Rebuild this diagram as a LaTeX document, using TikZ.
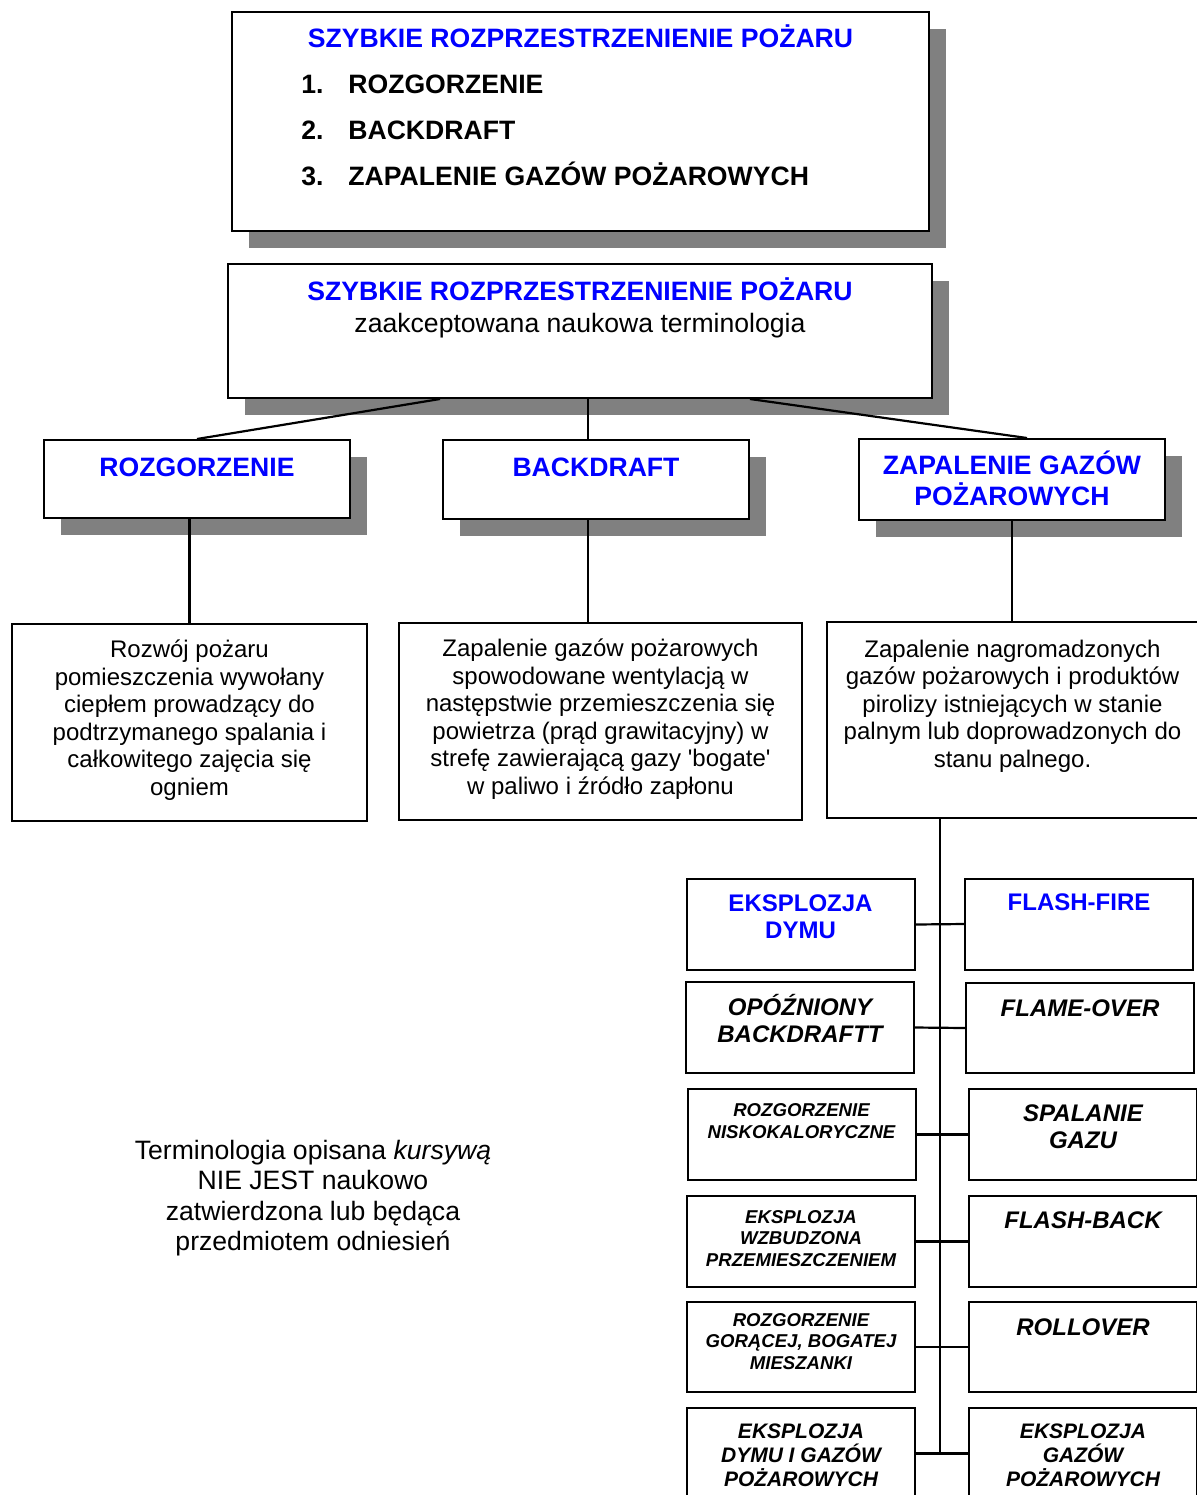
\documentclass[tikz,border=0pt]{standalone}
\usepackage{fontspec}
\setmainfont{Liberation Sans}[Ligatures=TeXOff]
\usepackage{xcolor}
\usepackage{tikz}
\usetikzlibrary{positioning,calc,shadows}
\definecolor{titleblue}{RGB}{0,0,255}
\definecolor{shadowgray}{RGB}{128,128,128}

\begin{document}
\begin{tikzpicture}[
    x=0.5pt, y=-0.5pt,
    box/.style={draw, line width=1pt, fill=white, inner sep=0pt},
    shadowed/.style={box, drop shadow={shadow xshift=8.5pt, shadow yshift=-8.5pt, fill=shadowgray, opacity=1}},
    head/.style={anchor=base, align=center, inner sep=0pt, text=titleblue, font=\fontsize{13.3pt}{15.5pt}\selectfont\bfseries},
    body/.style={anchor=base, align=center, inner sep=0pt, font=\fontsize{12pt}{13.8pt}\selectfont},
    term/.style={anchor=base, align=center, inner sep=0pt, font=\fontsize{12pt}{13.5pt}\selectfont\bfseries\itshape},
    smallterm/.style={term, font=\fontsize{9.3pt}{10.75pt}\selectfont\bfseries\itshape},
    midterm/.style={term, font=\fontsize{10.5pt}{12pt}\selectfont\bfseries\itshape},
    blueterm/.style={term, text=titleblue, font=\fontsize{12pt}{13.5pt}\selectfont\bfseries},
    link/.style={line width=1.1pt}
]
    \useasboundingbox (0,0) rectangle (1196,1495);

    % top summary
    \node[shadowed, minimum width=348.5pt, minimum height=109.5pt] (intro) at (580.5,121.5) {};
    \node[head] (intro-t) at ([yshift=-18pt]intro.north) {SZYBKIE ROZPRZESTRZENIENIE POŻARU};
    \node[anchor=base west, align=left, inner sep=0pt, font=\fontsize{13.3pt}{23pt}\selectfont\bfseries] (intro-l) at ([xshift=35pt,yshift=-87.25pt]intro.north west)
        {\makebox[23.5pt][l]{1.}ROZGORZENIE\\\makebox[23.5pt][l]{2.}BACKDRAFT\\\makebox[23.5pt][l]{3.}ZAPALENIE GAZÓW POŻAROWYCH};

    % accepted terms
    \node[shadowed, minimum width=352pt, minimum height=67pt] (sfs) at (580,331) {};
    \node[head] (sfs-t) at ([yshift=-34.5pt]sfs.north) {SZYBKIE ROZPRZESTRZENIENIE POŻARU\\[0.5pt]\textcolor{black}{\mdseries zaakceptowana naukowa terminologia}};

    \node[shadowed, minimum width=153pt, minimum height=39pt] (rz) at (197,479) {};
    \node[head] (rz-t) at ([yshift=-18.75pt]rz.north) {ROZGORZENIE};
    \node[shadowed, minimum width=153pt, minimum height=39.5pt] (bd) at (596,479.5) {};
    \node[head] (bd-t) at ([yshift=-18.75pt]bd.north) {BACKDRAFT};
    \node[shadowed, minimum width=153pt, minimum height=40.5pt] (zg) at (1012,479.5) {};
    \node[head] (zg-t) at ([yshift=-33.75pt]zg.north) {ZAPALENIE GAZÓW\\POŻAROWYCH};

    % definitions
    \node[box, minimum width=177.5pt, minimum height=98.5pt] (d1) at (189.5,722.5) {};
    \node[body] (d1-t) at ([yshift=-86.25pt]d1.north) {Rozwój pożaru\\pomieszczenia wywołany\\ciepłem prowadzący do\\podtrzymanego spalania i\\całkowitego zajęcia się\\ogniem};
    \node[box, minimum width=201.5pt, minimum height=98.5pt] (d2) at (600.5,721.5) {};
    \node[body] (d2-t) at ([yshift=-86.25pt]d2.north) {Zapalenie gazów pożarowych\\spowodowane wentylacją w\\następstwie przemieszczenia się\\powietrza (prąd grawitacyjny) w\\strefę zawierającą gazy 'bogate'\\w paliwo i źródło zapłonu};
    \node[box, minimum width=185.5pt, minimum height=98pt] (d3) at (1012.5,720) {};
    \node[body] (d3-t) at ([yshift=-73.2pt]d3.north) {Zapalenie nagromadzonych\\gazów pożarowych i produktów\\pirolizy istniejących w stanie\\palnym lub doprowadzonych do\\stanu palnego.};

    \draw[link] ([xshift=-70pt]sfs.south) -- (rz.north);
    \coordinate (bd-in) at ([xshift=-4pt]bd.north);
    \draw[link] (bd-in |- sfs.south) -- (bd-in);
    \draw[link] ([xshift=85pt]sfs.south) -- ([xshift=7.5pt]zg.north);

    \draw[link] (d1.north |- rz.south) -- (d1.north);
    \coordinate (bd-out) at ([xshift=-4pt]bd.south);
    \draw[link] (bd-out) -- (bd-out |- d2.north);
    \draw[link] (zg.south) -- (zg.south |- d3.north);

    % other terms
    \node[box, minimum width=114pt, minimum height=45.5pt] (ed) at (800.5,924.5) {};
    \node[blueterm] (ed-t) at ([yshift=-30pt]ed.north) {EKSPLOZJA\\DYMU};
    \node[box, minimum width=114pt, minimum height=45.5pt] (ff) at (1079,924) {};
    \node[blueterm] (ff-t) at ([yshift=-16.5pt]ff.north) {FLASH-FIRE};

    \node[box, minimum width=114pt, minimum height=45.5pt] (ob) at (800,1027.5) {};
    \node[term] (ob-t) at ([yshift=-30.5pt]ob.north) {OPÓŹNIONY\\BACKDRAFTT};
    \node[box, minimum width=114pt, minimum height=45pt] (fo) at (1080,1028) {};
    \node[term] (fo-t) at ([yshift=-17pt]fo.north) {FLAME-OVER};

    \node[box, minimum width=114pt, minimum height=45.5pt] (rn) at (801.5,1134.5) {};
    \node[smallterm] (rn-t) at ([yshift=-25pt]rn.north) {ROZGORZENIE\\NISKOKALORYCZNE};
    \node[box, minimum width=114pt, minimum height=45.5pt] (sg) at (1083,1134.5) {};
    \node[term] (sg-t) at ([yshift=-30pt]sg.north) {SPALANIE\\GAZU};

    \node[box, minimum width=114pt, minimum height=45.5pt] (ew) at (801,1241.5) {};
    \node[smallterm] (ew-t) at ([yshift=-35.5pt]ew.north) {EKSPLOZJA\\WZBUDZONA\\PRZEMIESZCZENIEM};
    \node[box, minimum width=114pt, minimum height=45.5pt] (fb) at (1083,1241.5) {};
    \node[term] (fb-t) at ([yshift=-16.5pt]fb.north) {FLASH-BACK};

    \node[box, minimum width=114pt, minimum height=45pt] (rg) at (801,1347) {};
    \node[smallterm] (rg-t) at ([yshift=-34pt]rg.north) {ROZGORZENIE\\GORĄCEJ, BOGATEJ\\MIESZANKI};
    \node[box, minimum width=114pt, minimum height=45pt] (ro) at (1083,1347) {};
    \node[term] (ro-t) at ([yshift=-17pt]ro.north) {ROLLOVER};

    \node[box, minimum width=114pt, minimum height=45.5pt] (edg) at (801,1453.5) {};
    \node[midterm] (edg-t) at ([yshift=-39.5pt]edg.north) {EKSPLOZJA\\DYMU I GAZÓW\\POŻAROWYCH};
    \node[box, minimum width=114pt, minimum height=45.5pt] (eg) at (1083,1453.5) {};
    \node[midterm] (eg-t) at ([yshift=-39.5pt]eg.north) {EKSPLOZJA\\GAZÓW\\POŻAROWYCH};

    \coordinate (spine) at (940,1455);
    \draw[link] (d3.south -| spine) -- (spine);
    \draw[link] (ed.east) -- (ff.west);
    \draw[link] (ob.east) -- (fo.west);
    \draw[link] (rn.east) -- (sg.west);
    \draw[link] (ew.east) -- (fb.west);
    \draw[link] (rg.east) -- (ro.west);
    \draw[link] (edg.east) -- (eg.west);

    \node[anchor=base, align=center, inner sep=0pt, font=\fontsize{13.3pt}{15.3pt}\selectfont] (note) at (313,1250.8)
        {Terminologia opisana \textit{kursywą}\\NIE JEST naukowo\\zatwierdzona lub będąca\\przedmiotem odniesień};
\end{tikzpicture}
\end{document}
